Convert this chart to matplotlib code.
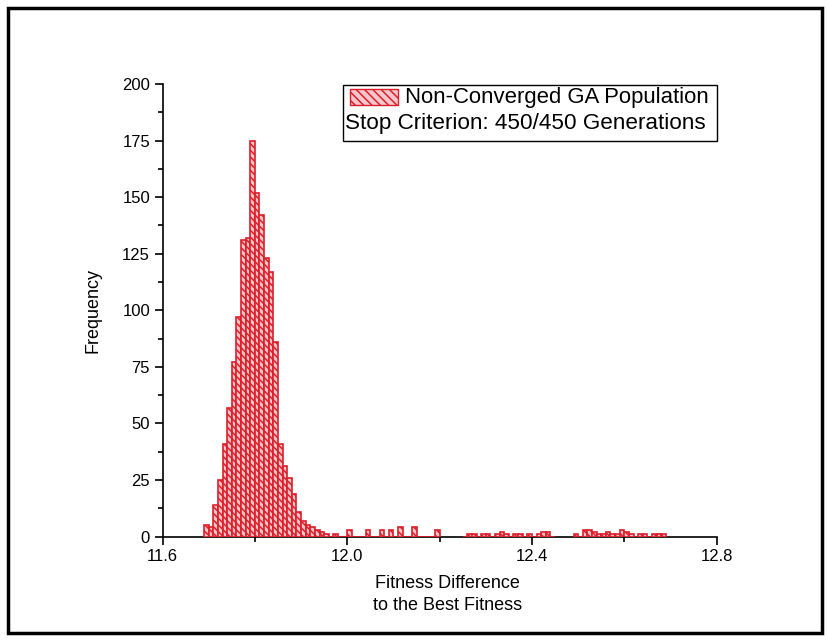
import numpy as np
import matplotlib
matplotlib.use("Agg")
import matplotlib.pyplot as plt
from matplotlib.patches import Rectangle
from matplotlib.ticker import MultipleLocator

plt.rcParams['font.family'] = ['Liberation Sans', 'DejaVu Sans']
plt.rcParams['hatch.linewidth'] = 1.1

# ---- data (histogram of fitness differences, bin width 0.01) ----
bin_start = 11.69
bin_width = 0.01
nan = np.nan
counts = [
    5, 4, 14, 25, 41, 57, 77, 97, 131, 132,          # 11.69 - 11.78
    175, 152, 142, 123, 117, 86, 41, 31, 26, 19,     # 11.79 - 11.88
    11, 7, 5, 4, 3, 2, 1, 0, 1, 0,                   # 11.89 - 11.98
    0, 3, 0, 0, 0, 3, 0, 0, 3, 0,                    # 11.99 - 12.08
    3, 0, 4, 0, 0, 4, 0, 0, 0, 0,                    # 12.09 - 12.18
    3, nan, nan, nan, nan, nan, 0, 1, 1, 0,          # 12.19 - 12.28
    1, 1, 0, 1, 2, 1, 0, 1, 1, 0,                    # 12.29 - 12.38
    1, 0, 1, 2, 2, 0, nan, nan, nan, nan,            # 12.39 - 12.48
    1, 0, 3, 3, 2, 1, 1, 2, 1, 1,                    # 12.49 - 12.58
    3, 2, 1, 0, 1, 1, 0, 1, 1, 1,                    # 12.59 - 12.68
]
legend_label = "Non-Converged GA Population"
legend_note = "Stop Criterion: 450/450 Generations"
x_label = "Fitness Difference\nto the Best Fitness"
y_label = "Frequency"
x_ticks = [11.6, 12.0, 12.4, 12.8]
y_ticks = [0, 25, 50, 75, 100, 125, 150, 175, 200]

counts = np.array(counts, dtype=float)
edges = bin_start + bin_width * np.arange(len(counts))
mask = ~np.isnan(counts)

red = '#dc1f2a'
fill = '#f8c4c8'

fig = plt.figure(figsize=(8.27, 6.42), dpi=100)
ax = fig.add_axes([0.1965, 0.1643, 0.6701, 0.7048])

ax.bar(edges[mask], counts[mask], width=bin_width, align='edge',
       facecolor=fill, edgecolor=red, hatch='\\\\\\\\\\', linewidth=1.2,
       zorder=2)

ax.set_xlim(x_ticks[0], x_ticks[-1])
ax.set_ylim(y_ticks[0], y_ticks[-1])
ax.set_xticks(x_ticks)
ax.set_xticklabels([f"{t:.1f}" for t in x_ticks])
ax.set_yticks(y_ticks)
ax.xaxis.set_minor_locator(MultipleLocator(0.2))
ax.yaxis.set_minor_locator(MultipleLocator(12.5))

for s in ['top', 'right']:
    ax.spines[s].set_visible(False)
for s in ['left', 'bottom']:
    ax.spines[s].set_linewidth(1.2)
    ax.spines[s].set_zorder(1)

ax.tick_params(axis='both', which='major', direction='out', length=6,
               width=1.2, labelsize=12, pad=3)
ax.tick_params(axis='both', which='minor', direction='out', length=3.5,
               width=1.2)

ax.set_xlabel(x_label, fontsize=13, linespacing=1.35)
ax.xaxis.set_label_coords(0.515, -0.085, transform=ax.transAxes)
ax.xaxis.label.set_va('top')
ax.set_ylabel(y_label, fontsize=13)
ax.yaxis.set_label_coords(-0.11, 0.5, transform=ax.transAxes)

# legend box drawn as in the original (hatched sample + two text lines)
ax.add_patch(Rectangle((0.326, 0.874), 0.674, 0.124, transform=ax.transAxes,
                       fill=False, edgecolor='black', lw=1.0, clip_on=False,
                       zorder=5))
ax.add_patch(Rectangle((0.338, 0.954), 0.087, 0.034, transform=ax.transAxes,
                       facecolor='#f7c6cc', edgecolor=red, hatch='\\\\\\\\',
                       lw=1.0, clip_on=False, zorder=5))
ax.text(0.4376, 0.971, legend_label, transform=ax.transAxes, fontsize=15.9,
        va='center', ha='left', zorder=6)
ax.text(0.329, 0.912, legend_note, transform=ax.transAxes, fontsize=16.2,
        va='center', ha='left', zorder=6)

# outer frame around the whole figure
fig.patches.append(Rectangle((8 / 827, 1 - 633 / 642), (822 - 8) / 827,
                             (633 - 8) / 642, transform=fig.transFigure,
                             fill=False, lw=2.5, edgecolor='black'))

fig.savefig("out.png", dpi=100)
